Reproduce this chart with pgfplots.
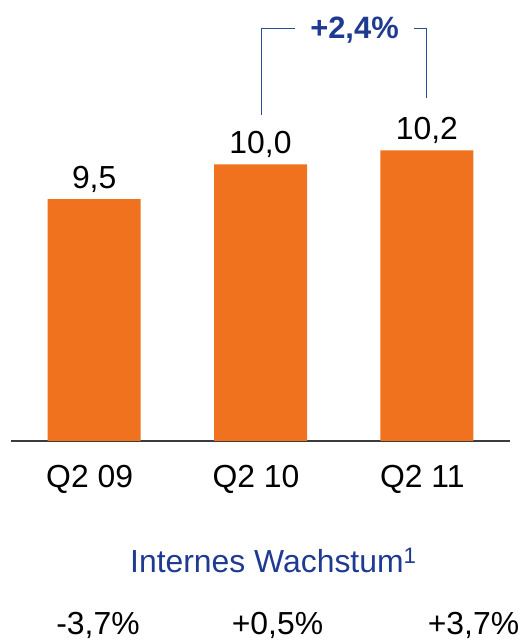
\documentclass[border=0pt]{standalone}
\usepackage{pgfplots}
\pgfplotsset{compat=1.18}
\usepackage{fontspec}
\setmainfont{Liberation Sans}
\definecolor{barorange}{RGB}{240,114,30}
\definecolor{textblue}{RGB}{31,58,145}
\definecolor{lineblue}{RGB}{45,75,155}
\definecolor{axisgray}{RGB}{60,60,60}
\begin{document}
\fontsize{32}{38}\selectfont
\begin{tikzpicture}
\path[use as bounding box] (0,0) rectangle (525bp,641bp);
\begin{axis}[
  at={(11bp,200bp)}, anchor=south west,
  scale only axis, width=499bp, height=441bp,
  xmin=-0.5, xmax=2.5, ymin=6.02, ymax=12.365,
  axis x line=bottom, axis y line=none,
  x axis line style={-, draw=axisgray, line width=1.2bp},
  xtick={0,1,2}, xticklabels={Q2 09, Q2 10, Q2 11},
  major tick length=0pt,
  xticklabel style={anchor=base, yshift=-47bp, xshift=-4.5bp, inner sep=0pt, font=\fontsize{32}{38}\selectfont},
  ytick=\empty,
  clip=false,
  nodes near coords,
  point meta=y,
  every node near coord/.append style={anchor=base, yshift=10.5bp, inner sep=0pt, text=black, font=\fontsize{32}{38}\selectfont},
  /pgf/number format/.cd, use comma, fixed, fixed zerofill, precision=1, assume math mode=true,
]
\addplot[ybar, bar width=93bp, fill=barorange, draw=none] coordinates {(0,9.5) (1,10.0) (2,10.2)};
\end{axis}
% bracket
\draw[lineblue, line width=1.3bp] (261.5bp,526bp) -- (261.5bp,612.5bp) -- (295bp,612.5bp);
\draw[lineblue, line width=1.3bp] (414bp,612.5bp) -- (426.5bp,612.5bp) -- (426.5bp,543bp);
\node[anchor=base, inner sep=0pt, text=textblue, font=\fontsize{31}{37}\selectfont\bfseries] at (354.5bp,602bp) {+2,4\%};
% bottom text
\node[anchor=base west, inner sep=0pt, text=textblue] at (130bp,68.3bp) {Internes Wachstum\textsuperscript{1}};
\node[anchor=base, inner sep=0pt] at (98bp,7bp) {-3,7\%};
\node[anchor=base, inner sep=0pt] at (277.5bp,7bp) {+0,5\%};
\node[anchor=base, inner sep=0pt] at (473.5bp,7bp) {+3,7\%};
\end{tikzpicture}
\end{document}
